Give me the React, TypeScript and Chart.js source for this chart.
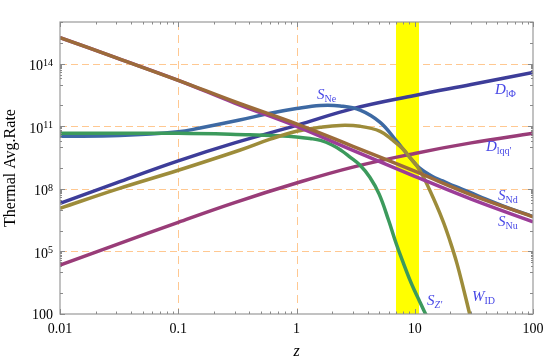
import React, { useEffect, useRef } from "react";
import { Chart, registerables } from "chart.js";

Chart.register(...registerables);

// ---------- axis ranges & ticks ----------
const xMin = 0.01;
const xMax = 100;
const yMin = 1e2;
const yMax = 1e16;
const xTickValues = [0.01, 0.1, 1, 10, 100];
const xTickLabels = ["0.01", "0.1", "1", "10", "100"];
const yTickValues = [1e2, 1e5, 1e8, 1e11, 1e14];
const yTickBase = ["100", "10", "10", "10", "10"];
const yTickExp = ["", "5", "8", "11", "14"];
const xGridValues = [0.1, 1, 10];
const yGridValues = [1e5, 1e8, 1e11, 1e14];
const bandRange = [6.94, 10.86];
const xTitle = "z";
const yTitle = "Thermal Avg.Rate";

// ---------- series (z, rate) ----------
const zSNd = [0.01, 0.03, 0.1, 0.3, 1, 3, 10, 30, 100];
const vSNd = [1.8e15, 1.9e14, 1.6e13, 1.5e12, 1.3e11, 1.1e10, 7e8, 5.2e7, 4.6e6];

const zSNu = [0.01, 0.03, 0.1, 0.3, 1, 3, 10, 30, 100];
const vSNu = [1.8e15, 1.9e14, 1.6e13, 1.3e12, 1.0e11, 7e9, 4e8, 3.2e7, 2.6e6];

const zSNe = [0.01, 0.032, 0.1, 0.153, 0.33, 0.6, 1, 1.59, 2.34, 3.45, 5.1, 6.94, 9.1, 11, 14, 17.2, 22, 29, 40, 60, 100];
const vSNe = [3.3e10, 3.6e10, 5.4e10, 8.3e10, 2e11, 4.2e11, 7.1e11, 1e12, 9.5e11, 6e11, 1.55e11, 2.1e10, 3.2e9, 9.8e8, 4e8, 2.4e8, 1.3e8, 7e7, 3.2e7, 1.3e7, 4.7e6];

const zSZp = [0.01, 0.1, 0.4, 0.7, 1, 1.3, 1.6, 2, 2.4, 2.8, 3.45, 4.17, 5, 6, 7, 8, 9, 10, 11, 12, 13];
const vSZp = [4.6e10, 4.6e10, 3.9e10, 3.5e10, 3.1e10, 2.6e10, 2.1e10, 1.26e10, 6.8e9, 3.5e9, 1.35e9, 3.6e8, 5.6e7, 3.2e6, 2.2e5, 2.8e4, 5e3, 1.26e3, 400, 140, 56];

const zWID = [0.01, 0.03, 0.1, 0.33, 0.6, 1, 1.59, 2.34, 3.45, 5.1, 6.55, 8, 9.1, 11, 13.4, 17.2, 20, 22.7, 26, 29, 31];
const vWID = [1.17e7, 9.5e7, 7.8e8, 7.1e9, 2.4e10, 5.75e10, 8.9e10, 1.1e11, 1e11, 5.75e10, 2.1e10, 7.9e9, 3.2e9, 7.9e8, 8.5e7, 3.2e6, 2.8e5, 2.75e4, 1.4e3, 112, 25];

const zDlPhi = [0.01, 0.03, 0.1, 0.3, 1, 3, 10, 30, 100];
const vDlPhi = [2e7, 1.95e8, 2.2e9, 1.6e10, 1.1e11, 7e11, 3e12, 1e13, 3.8e13];

const zDlqq = [0.01, 0.03, 0.1, 0.3, 1, 3, 10, 30, 100];
const vDlqq = [2.2e4, 2.1e5, 2.5e6, 2.2e7, 1.9e8, 1.1e9, 5e9, 1.6e10, 4.6e10];

// ---------- curve labels (main, subscript, anchor z, anchor rate) ----------
const labelMain = ["S", "D", "D", "S", "S", "S", "W"];
const labelSub = ["Ne", "l\u03A6", "lqq'", "Nd", "Nu", "Z'", "ID"];
const labelSubItalic = [false, false, false, false, false, true, false];
const labelZ = [1.49, 47.7, 40, 50.6, 50.6, 12.7, 30.5];
const labelV = [1.95e12, 3.7e12, 6.3e9, 2.85e7, 1.6e6, 270, 417];

const SERIF = '"Liberation Serif", "Times New Roman", serif';

const series = [
  { name: "S_Nd", z: zSNd, v: vSNd, color: "#9c6b3a" },
  { name: "S_Nu", z: zSNu, v: vSNu, color: "#9c3d98" },
  { name: "W_ID", z: zWID, v: vWID, color: "#9d8c3a" },
  { name: "S_Z'", z: zSZp, v: vSZp, color: "#3c9a5c" },
  { name: "S_Ne", z: zSNe, v: vSNe, color: "#3d69a3" },
  { name: "D_lPhi", z: zDlPhi, v: vDlPhi, color: "#3d3d99" },
  { name: "D_lqq'", z: zDlqq, v: vDlqq, color: "#993c78" },
];

const overlay = {
  id: "overlay",
  beforeDatasetsDraw(chart: any) {
    const { ctx, chartArea: a, scales } = chart;
    const xs = scales.x;
    const ys = scales.y;
    ctx.save();
    ctx.strokeStyle = "#ffc891";
    ctx.lineWidth = 1;
    ctx.setLineDash([8, 5]);
    for (const v of xGridValues) {
      const px = Math.round(xs.getPixelForValue(v)) + 0.5;
      ctx.beginPath();
      ctx.moveTo(px, a.top);
      ctx.lineTo(px, a.bottom);
      ctx.stroke();
    }
    ctx.setLineDash([7, 4]);
    for (const v of yGridValues) {
      const py = Math.round(ys.getPixelForValue(v)) + 0.5;
      ctx.beginPath();
      ctx.moveTo(a.left, py);
      ctx.lineTo(a.right, py);
      ctx.stroke();
    }
    ctx.setLineDash([]);
    const bx0 = xs.getPixelForValue(bandRange[0]);
    const bx1 = xs.getPixelForValue(bandRange[1]);
    ctx.fillStyle = "#ffff00";
    ctx.fillRect(bx0, a.top, bx1 - bx0, a.bottom - a.top);
    ctx.restore();
  },
  afterDatasetsDraw(chart: any) {
    const { ctx, chartArea: a, scales } = chart;
    const xs = scales.x;
    const ys = scales.y;
    ctx.save();
    // frame
    ctx.strokeStyle = "#9a9a9a";
    ctx.lineWidth = 1.2;
    ctx.strokeRect(a.left, a.top, a.right - a.left, a.bottom - a.top);
    // ticks
    ctx.lineWidth = 1;
    ctx.strokeStyle = "#8a8a8a";
    const tick = (px: number, py: number, dx: number, dy: number) => {
      ctx.beginPath();
      ctx.moveTo(px, py);
      ctx.lineTo(px + dx, py + dy);
      ctx.stroke();
    };
    for (let e = -2; e <= 2; e++) {
      for (let m = 1; m <= 9; m++) {
        const v = m * Math.pow(10, e);
        if (v > xMax * 1.0001) break;
        const px = Math.round(xs.getPixelForValue(v)) + 0.5;
        const len = m === 1 ? 5 : 2.5;
        tick(px, a.bottom, 0, -len);
        tick(px, a.top, 0, len);
      }
    }
    for (let e = 2; e <= 16; e++) {
      const major = (e - 2) % 3 === 0;
      const py = Math.round(ys.getPixelForValue(Math.pow(10, e))) + 0.5;
      const len = major ? 5 : 3;
      tick(a.left, py, len, 0);
      tick(a.right, py, -len, 0);
      if (major && e > 2) {
        for (let m = 2; m <= 9; m++) {
          const pm = Math.round(ys.getPixelForValue(m * Math.pow(10, e - 1))) + 0.5;
          tick(a.left, pm, 2, 0);
          tick(a.right, pm, -2, 0);
        }
      }
    }
    // tick labels
    ctx.fillStyle = "#000";
    ctx.font = `14px ${SERIF}`;
    ctx.textAlign = "center";
    ctx.textBaseline = "alphabetic";
    xTickValues.forEach((v, i) => {
      const px = xs.getPixelForValue(v);
      ctx.fillText(xTickLabels[i], px, a.bottom + 19);
    });
    yTickValues.forEach((v, i) => {
      const py = ys.getPixelForValue(v);
      const right = a.left - 7;
      ctx.textAlign = "left";
      ctx.font = `10px ${SERIF}`;
      const ew = yTickExp[i] ? ctx.measureText(yTickExp[i]).width : 0;
      ctx.font = `14px ${SERIF}`;
      const bw = ctx.measureText(yTickBase[i]).width;
      const x0 = right - ew - bw;
      if (yTickExp[i]) {
        ctx.fillText(yTickBase[i], x0, py + 6.5);
        ctx.font = `10px ${SERIF}`;
        ctx.fillText(yTickExp[i], x0 + bw, py + 2);
      } else {
        ctx.fillText(yTickBase[i], x0, py + 5);
      }
    });
    // axis titles
    ctx.font = `16px ${SERIF}`;
    ctx.textAlign = "center";
    ctx.save();
    ctx.translate(14.5, (a.top + a.bottom) / 2);
    ctx.rotate(-Math.PI / 2);
    ctx.fillText(yTitle, 0, 0);
    ctx.restore();
    ctx.font = `italic 16px ${SERIF}`;
    ctx.fillText(xTitle, (a.left + a.right) / 2, 356);
    // curve labels
    ctx.textAlign = "left";
    ctx.fillStyle = "#4747e6";
    labelMain.forEach((m, i) => {
      const px = xs.getPixelForValue(labelZ[i]);
      const py = ys.getPixelForValue(labelV[i]);
      ctx.font = `italic 15px ${SERIF}`;
      ctx.fillText(m, px, py);
      const w = ctx.measureText(m).width;
      ctx.font = `${labelSubItalic[i] ? "italic " : ""}10px ${SERIF}`;
      ctx.fillText(labelSub[i], px + w, py + 3);
    });
    ctx.restore();
  },
};

export default function App() {
  const ref = useRef<HTMLCanvasElement | null>(null);
  useEffect(() => {
    document.body.style.margin = "0";
    if (!ref.current) return;
    const chart = new Chart(ref.current, {
      type: "line",
      data: {
        datasets: series.map((s) => ({
          label: s.name,
          data: s.z.map((z, i) => ({ x: z, y: s.v[i] })),
          borderColor: s.color,
          backgroundColor: s.color,
          borderWidth: 3.5,
          pointRadius: 0,
          fill: false,
          tension: 0.4,
          borderJoinStyle: "round" as const,
        })),
      },
      options: {
        responsive: false,
        animation: false,
        events: [],
        layout: { padding: { left: 60, top: 22, right: 12, bottom: 47 } },
        plugins: { legend: { display: false }, tooltip: { enabled: false } },
        scales: {
          x: { type: "logarithmic", min: xMin, max: xMax, display: false },
          y: { type: "logarithmic", min: yMin, max: yMax, display: false },
        },
      },
      plugins: [overlay],
    });
    return () => chart.destroy();
  }, []);
  return (
    <div style={{ width: 545, height: 361 }}>
      <canvas ref={ref} width={545} height={361} />
    </div>
  );
}
